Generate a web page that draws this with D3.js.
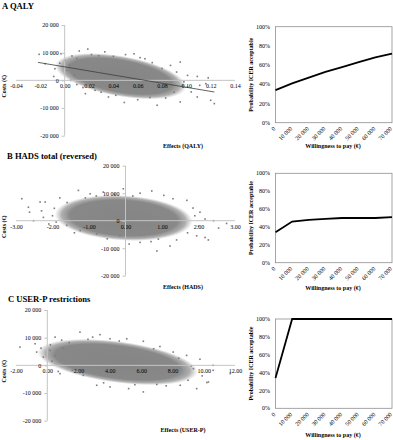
<!DOCTYPE html>
<html><head><meta charset="utf-8">
<script src="https://cdnjs.cloudflare.com/ajax/libs/d3/7.8.5/d3.min.js"></script>
<style>
body{margin:0;background:#fff}
svg{display:block}
text{font-family:"Liberation Serif","Times New Roman",serif;fill:#000}
</style>
</head><body>
<svg id="c" width="393" height="440"></svg>
<script>
// ---------------- DATA ----------------
const panelTitles = ["A  QALY", "B  HADS total (reversed)", "C  USER-P restrictions"];
const effectTitles = ["Effects (QALY)", "Effects (HADS)", "Effects (USER-P)"];
const costTitle = "Costs (€)";
const ceacYTitle = "Probability ICER acceptable";
const ceacXTitle = "Willingness to pay (€)";

const qalyTicks = [-0.04, -0.02, 0.00, 0.02, 0.04, 0.06, 0.08, 0.10, 0.12, 0.14];
const hadsTicks = [-3, -2, -1, 0, 1, 2, 3];
const userpTicks = [-2, 0, 2, 4, 6, 8, 10, 12];
const costTicks = [-20000, -10000, 0, 10000, 20000];

const wtp = [0, 10000, 20000, 30000, 40000, 50000, 60000, 70000];
const probTicks = [0, 0.2, 0.4, 0.6, 0.8, 1.0];
const ceacQALY = [0.34, 0.41, 0.47, 0.53, 0.58, 0.63, 0.68, 0.72];
const ceacHADS = [0.34, 0.46, 0.48, 0.49, 0.50, 0.50, 0.50, 0.51];
const ceacUSERP = [0.34, 1.00, 1.00, 1.00, 1.00, 1.00, 1.00, 1.00];

// bootstrap cloud core: [mean effect, mean cost, sd effect, sd cost, correlation]
const cloudQALY = [0.046, 1500, 0.020, 3100, -0.45];
const cloudHADS = [-0.05, 1000, 0.70, 3100, -0.15];
const cloudUSERP = [4.5, 1200, 1.9, 3100, -0.42];

// scattered replicates around the dense core [effect, cost]
const pointsQALY = [[-0.021,9400],[-0.016,6000],[-0.009,1400],[-0.003,9600],[0.000,7200],[0.012,10600],
  [0.019,11300],[0.033,10300],[0.057,9600],[0.050,9300],[0.095,6600],[0.087,5400],[0.101,1800],
  [0.109,1400],[0.118,900],[0.116,-1200],[0.109,-6000],[0.120,-7200],[0.123,-8400],[0.095,-7800],
  [0.076,-9000],[0.049,-8000],[0.036,-6000],[0.025,-3600],[0.017,-4800],[0.101,-2400],[0.111,-1800],
  [0.097,-1800],[0.005,0],[0.002,3600],[0.006,8800],[0.028,8900],[0.066,7800],[0.104,-4200],
  [0.060,-7000],[0.083,-6400],[0.010,-1500],[-0.008,4200],[0.004,5500],[0.010,7900],[0.022,9300],
  [0.040,8700],[0.072,6400],[0.080,4300],[0.092,3000],[0.098,-500],[0.090,-4300],[0.070,-6200],
  [0.042,-5400],[0.030,-4300],[0.015,-2600],[0.008,1800],[-0.004,6200],[0.062,8200]];
const pointsHADS = [[-2.84,8000],[-2.66,4900],[-2.63,3100],[-2.34,6800],[-2.20,6800],[-2.25,1200],
  [-2.00,1800],[-1.80,8300],[-1.29,11000],[-0.97,9800],[-0.61,10400],[-0.06,11600],[0.40,10000],
  [0.72,10800],[1.68,7400],[2.04,3100],[2.18,600],[2.41,0],[2.55,-2700],[2.77,-1000],[2.18,-6100],
  [2.27,-7000],[1.95,-5500],[1.22,-9200],[0.86,-11000],[0.40,-7900],[-0.15,-5500],[-0.79,-4800],
  [-1.24,-3600],[-1.61,-1700],[-2.52,0],[1.90,1800],[-1.95,4500],[1.40,-7000],[0.10,-8500],
  [-2.10,-1200],[1.05,9200],[-0.30,9600],[-1.60,6600],[-1.10,8300],[0.20,9000],[1.30,8000],
  [1.85,4600],[2.00,-2000],[1.70,-4400],[0.90,-6700],[-0.50,-6600],[-1.40,-4400],[-1.90,-500],
  [-2.30,3600],[-0.80,9000],[0.70,-7600]];
const pointsUSERP = [[-1.75,6600],[-0.78,7800],[-0.68,4800],[-0.25,3000],[0.17,5400],[0.50,10200],
  [0.92,9100],[2.09,12000],[3.37,11100],[4.01,9600],[5.08,9600],[6.14,8700],[8.05,4800],[8.91,3600],
  [9.76,2200],[10.60,0],[11.70,-3000],[10.30,-6000],[9.55,-8400],[10.20,-6200],[8.50,-7200],
  [6.14,-9600],[4.01,-7800],[3.16,-7200],[2.30,-3600],[0.81,-3000],[0.70,-2200],[10.60,-1800],
  [9.34,-1200],[0.30,1500],[1.40,8200],[7.20,6800],[7.60,-7400],[5.20,-8400],[9.90,-3800],[-0.40,6200],
  [0.20,7400],[1.00,6300],[2.60,9400],[4.60,8800],[6.80,6000],[8.40,2600],[9.20,-200],[9.00,-5400],
  [7.00,-6900],[5.60,-7000],[3.60,-6300],[1.60,-1800],[0.50,3300],[2.90,10200]];
const trendQALY = [[-0.022, 6500], [0.123, -4200]];

// ---------------- DRAW ----------------
const svg = d3.select("#c");
const defs = svg.append("defs");
const grad = defs.append("radialGradient").attr("id", "soft");
[[0, "#858585", 1], [0.78, "#888888", 1], [0.9, "#959595", 0.75], [1, "#aaaaaa", 0]].forEach(s =>
  grad.append("stop").attr("offset", s[0]).attr("stop-color", s[1]).attr("stop-opacity", s[2]));

const fmtCost = d => d3.format(",")(d).replace(/,/g, " ").replace("−", "-");
const axisGrey = "#c4c4c4";

function scatter(cfg) {
  const g = svg.append("g");
  const x = d3.scaleLinear().domain(d3.extent(cfg.xTicks)).range([16, 235]);
  const y = d3.scaleLinear().domain([-20000, 20000]).range([cfg.yBottom, cfg.yTop]);
  const x0 = x(0), y0 = y(0);

  g.append("text").attr("x", cfg.titleX).attr("y", cfg.titleY).attr("font-size", 8.6)
    .attr("font-weight", "bold").text(cfg.title);

  // cloud core
  const [mx, my, sx, sy, r] = cfg.cloud;
  const kx = Math.abs(x(1) - x(0)), ky = Math.abs(y(1) - y(0));
  const a = (sx * kx) ** 2, d = (sy * ky) ** 2, c = -r * sx * kx * sy * ky;
  const disc = Math.sqrt(((a - d) / 2) ** 2 + c * c);
  const l1 = (a + d) / 2 + disc, l2 = (a + d) / 2 - disc;
  const th = 0.5 * Math.atan2(2 * c, a - d) * 180 / Math.PI;
  const K = 2.7;
  g.append("ellipse").attr("rx", K * Math.sqrt(l1)).attr("ry", K * Math.sqrt(l2))
    .attr("transform", `translate(${x(mx)},${y(my)}) rotate(${th})`)
    .attr("fill", "url(#soft)");

  // points
  g.append("g").selectAll("rect").data(cfg.points).join("rect")
    .attr("x", p => x(p[0]) - 0.8).attr("y", p => y(p[1]) - 0.8)
    .attr("width", 1.6).attr("height", 1.6).attr("fill", "#7d7d7d");

  // axes
  const xa = d3.axisBottom(x).tickValues(cfg.xTicks).tickSize(0).tickPadding(5)
    .tickFormat(d => d3.format(".2f")(d).replace("−", "-"));
  const xg = g.append("g").attr("transform", `translate(0,${y0})`).call(xa);
  const ya = d3.axisLeft(y).tickValues(costTicks).tickSize(3).tickPadding(3).tickFormat(fmtCost);
  const yg = g.append("g").attr("transform", `translate(${x0},0)`).call(ya);
  [xg, yg].forEach(ax => {
    ax.select(".domain").attr("stroke", axisGrey).attr("stroke-width", 1);
    ax.selectAll(".tick line").attr("stroke", axisGrey);
    ax.selectAll("text").attr("font-size", 6).attr("font-family", "Liberation Serif").attr("fill", "#000");
  });
  xg.select(".domain").attr("d", `M${x.range()[0]},0H${x.range()[1]}`);
  yg.select(".domain").attr("d", `M0,${y.range()[1]}V${y.range()[0]}`);
  xg.selectAll("text").attr("dy", "0.5em");

  if (cfg.trend) {
    g.append("path").attr("d", d3.line().x(p => x(p[0])).y(p => y(p[1]))(cfg.trend))
      .attr("stroke", "#3c3c3c").attr("stroke-width", 0.8).attr("fill", "none");
  }

  g.append("text").attr("transform", `translate(6,${y0 + 6}) rotate(-90)`).attr("text-anchor", "middle")
    .attr("font-size", 6).attr("font-weight", "bold").text(costTitle);
  g.append("text").attr("x", 183).attr("y", cfg.xTitleY).attr("text-anchor", "middle")
    .attr("font-size", 6).attr("font-weight", "bold").text(cfg.xTitle);
}

function ceac(cfg) {
  const g = svg.append("g");
  const x = d3.scaleLinear().domain([0, 70000]).range([275.5, 392]);
  const y = d3.scaleLinear().domain([0, 1]).range([cfg.bottom, cfg.top]);
  g.append("rect").attr("x", x(0)).attr("y", y(1)).attr("width", x(70000) - x(0))
    .attr("height", y(0) - y(1)).attr("fill", "none").attr("stroke", "#8f8f8f").attr("stroke-width", 0.8);
  g.selectAll(".yl").data(probTicks).join("text").attr("x", 270).attr("y", d => y(d))
    .attr("dy", "0.35em").attr("text-anchor", "end").attr("font-size", 6)
    .text(d => d3.format(".0%")(d));
  g.selectAll(".xl").data(wtp).join("text")
    .attr("transform", d => `translate(${x(d) - 1},${y(0) + 5}) rotate(-45)`)
    .attr("text-anchor", "end").attr("dy", "0.35em").attr("font-size", 6)
    .text(d => fmtCost(d));
  g.append("path").attr("d", d3.line().x((d, i) => x(wtp[i])).y(d => y(d))(cfg.values))
    .attr("fill", "none").attr("stroke", "#000").attr("stroke-width", 1.8);
  g.append("text").attr("transform", `translate(253,${(y(0) + y(1)) / 2}) rotate(-90)`)
    .attr("text-anchor", "middle").attr("font-size", 6).attr("font-weight", "bold").text(ceacYTitle);
  g.append("text").attr("x", 333).attr("y", cfg.xTitleY).attr("text-anchor", "middle")
    .attr("font-size", 6).attr("font-weight", "bold").text(ceacXTitle);
}

scatter({title: panelTitles[0], titleX: 2, titleY: 8.5, xTicks: qalyTicks, yTop: 25, yBottom: 135.7,
  cloud: cloudQALY, points: pointsQALY, trend: trendQALY, xTitle: effectTitles[0], xTitleY: 148});
scatter({title: panelTitles[1], titleX: 7, titleY: 158.5, xTicks: hadsTicks, yTop: 165.7, yBottom: 275.7,
  cloud: cloudHADS, points: pointsHADS, xTitle: effectTitles[1], xTitleY: 289});
scatter({title: panelTitles[2], titleX: 8, titleY: 302, xTicks: userpTicks, yTop: 310, yBottom: 420.7,
  cloud: cloudUSERP, points: pointsUSERP, xTitle: effectTitles[2], xTitleY: 432});

ceac({top: 26.7, bottom: 122.7, values: ceacQALY, xTitleY: 148});
ceac({top: 173.3, bottom: 262.7, values: ceacHADS, xTitleY: 290});
ceac({top: 319, bottom: 408.3, values: ceacUSERP, xTitleY: 437});
</script>
</body></html>
